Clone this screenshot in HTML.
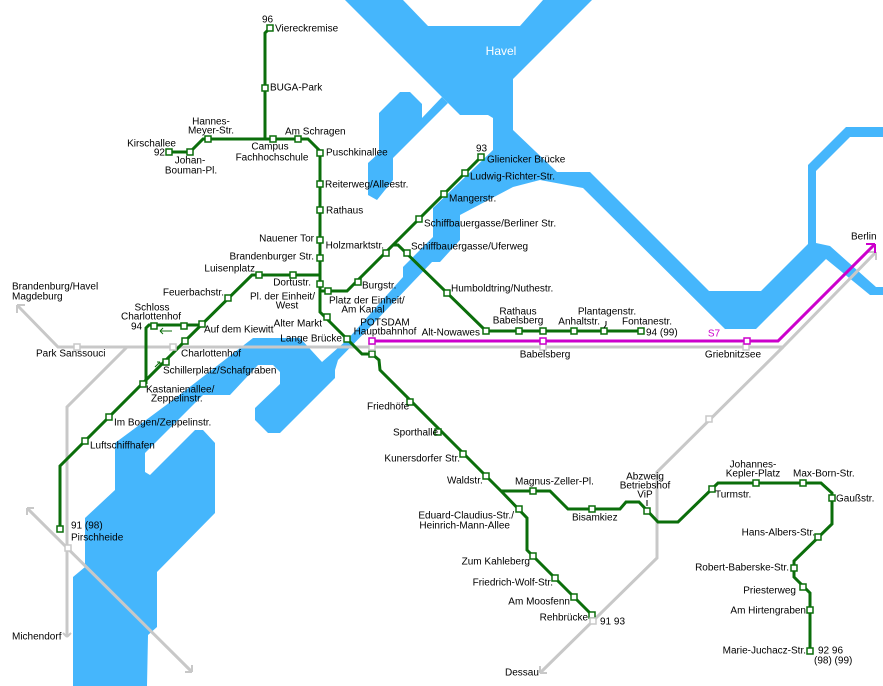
<!DOCTYPE html>
<html><head><meta charset="utf-8"><style>
html,body{margin:0;padding:0;background:#fff}
svg{display:block}
text{font-family:"Liberation Sans",sans-serif;font-size:10px;fill:#000;dominant-baseline:central}
.e{text-anchor:end}.m{text-anchor:middle}
.g{fill:none;stroke:#0b6e0b;stroke-width:3;stroke-linejoin:miter}
.r{fill:none;stroke:#c8c8c8;stroke-width:3}
.s{fill:#fff;stroke:#0b6e0b;stroke-width:1.5}
.sg{fill:#fff;stroke:#c8c8c8;stroke-width:1.5}
.sm{fill:#fff;stroke:#cc00cc;stroke-width:1.5}
</style></head><body>
<svg width="883" height="686" viewBox="0 0 883 686" xmlns="http://www.w3.org/2000/svg">
<g fill="#45b6fc">
<polygon points="345,0 403,0 428,26 520,26 543,0 592,0 513,79 513,130 557,172 590,172 709,291 761,291 808,244 808,165 846,127 883,127 883,137 850,137 816,171 816,243 830,246 876,287 883,287 883,295 870,295 826,259 756,329 725,329 583,188 540,180 513,187 460,215 460,240 440,262 432,262 372,325 338,360 335,370 322,362 347,340 403,277 403,267 433,237 433,208 493,150 493,118 488,115 460,115 440,95"/>
<polygon points="379,113 400,92 410,92 422,104 422,118 442,97 448,103 393,158 393,180 377,200 368,195 368,163 379,153"/>
<polygon points="253,338 300,338 322,362 335,362 335,378 280,433 268,433 255,420 255,408 280,384 280,372 273,365 258,365 230,395 203,395 145,453 145,472 150,475 195,430 203,430 215,443 215,513 157,572 157,627 148,635 147,686 73,686 73,577 85,567 85,518 115,490 115,443 173,400"/>
</g>
<text x="501" y="51" class="m" style="fill:#fff;font-size:12px">Havel</text>

<polyline class="r" points="17,305 58,347 783,347 876,252"/>
<polyline class="r" points="127,347 67,407 67,637"/>
<polyline class="r" points="27,508 192,672"/>
<polyline class="r" points="783,347 657,472 657,558 540,673"/>
<path d="M17,305 l0,8 M17,305 l8,0" class="r" style="stroke-width:2"/>
<path d="M876,252 l-8,0 M876,252 l0,8" class="r" style="stroke-width:2"/>
<path d="M67,637 l-4,-4 M67,637 l4,-4" class="r" style="stroke-width:2"/>
<path d="M27,508 l0,7 M27,508 l7,0" class="r" style="stroke-width:2"/>
<path d="M192,672 l-7,0 M192,672 l0,-7" class="r" style="stroke-width:2"/>
<path d="M540,673 l7,0 M540,673 l0,-7" class="r" style="stroke-width:2"/>
<polyline points="372,341 778,341 875,244" fill="none" stroke="#cc00cc" stroke-width="3"/>
<path d="M875,244 l-9,0 M875,244 l0,9" stroke="#cc00cc" stroke-width="2" fill="none"/>
<line x1="543" y1="341" x2="543" y2="347" stroke="#000" stroke-width="1"/>

<polyline class="g" points="270,28 265,33 265,139"/>
<polyline class="g" points="169,152 190,152 203,139 308,139 320,151 320,312 347,339 362,354 372,354 379,360 380,370 501,491 527,518 527,550 592,615"/>
<polyline class="g" points="320,275 252,275 185,341 60,466 60,529"/>
<polyline class="g" points="146,384 146,328 149,325 201,325"/>
<polyline class="g" points="320,291 347,291 481,157"/>
<polyline class="g" points="393,245 398,245 486,331 641,331"/>
<polyline class="g" points="501,491 550,491 568,509 620,509 626,502 639,502 658,522 678,522 718,483 821,483 832,493 832,524 794,561 794,577 810,593 810,651"/>

<g class="s">
<rect x="267" y="25" width="6" height="6"/><rect x="262" y="85" width="6" height="6"/>
<rect x="166" y="149" width="6" height="6"/><rect x="187" y="149" width="6" height="6"/>
<rect x="205" y="136" width="6" height="6"/><rect x="270" y="136" width="6" height="6"/><rect x="295" y="136" width="6" height="6"/>
<rect x="317" y="150" width="6" height="6"/><rect x="317" y="181" width="6" height="6"/><rect x="317" y="207" width="6" height="6"/>
<rect x="317" y="237" width="6" height="6"/><rect x="317" y="255" width="6" height="6"/><rect x="317" y="281" width="6" height="6"/>
<rect x="325" y="288" width="6" height="6"/><rect x="324" y="314" width="6" height="6"/><rect x="344" y="336" width="6" height="6"/>
<rect x="369" y="351" width="6" height="6"/>
<rect x="256" y="272" width="6" height="6"/><rect x="290" y="272" width="6" height="6"/>
<rect x="225" y="295" width="6" height="6"/><rect x="199" y="321" width="6" height="6"/><rect x="182" y="338" width="6" height="6"/>
<rect x="163" y="359" width="6" height="6"/><rect x="140" y="381" width="6" height="6"/><rect x="106" y="414" width="6" height="6"/>
<rect x="82" y="438" width="6" height="6"/><rect x="57" y="526" width="6" height="6"/>
<rect x="151" y="323" width="6" height="6"/><rect x="181" y="323" width="6" height="6"/>
<rect x="355" y="279" width="6" height="6"/><rect x="383" y="250" width="6" height="6"/><rect x="416" y="216" width="6" height="6"/>
<rect x="441" y="191" width="6" height="6"/><rect x="462" y="170" width="6" height="6"/><rect x="478" y="154" width="6" height="6"/>
<rect x="404" y="250" width="6" height="6"/><rect x="444" y="290" width="6" height="6"/>
<rect x="483" y="328" width="6" height="6"/><rect x="516" y="328" width="6" height="6"/><rect x="540" y="328" width="6" height="6"/>
<rect x="571" y="328" width="6" height="6"/><rect x="601" y="328" width="6" height="6"/><rect x="638" y="328" width="6" height="6"/>
<rect x="407" y="399" width="6" height="6"/><rect x="435" y="429" width="6" height="6"/><rect x="460" y="451" width="6" height="6"/>
<rect x="483" y="473" width="6" height="6"/><rect x="516" y="506" width="6" height="6"/>
<rect x="530" y="553" width="6" height="6"/><rect x="552" y="575" width="6" height="6"/><rect x="571" y="594" width="6" height="6"/><rect x="589" y="612" width="6" height="6"/>
<rect x="530" y="488" width="6" height="6"/><rect x="589" y="506" width="6" height="6"/><rect x="644" y="508" width="6" height="6"/>
<rect x="709" y="486" width="6" height="6"/><rect x="753" y="480" width="6" height="6"/><rect x="800" y="480" width="6" height="6"/>
<rect x="829" y="495" width="6" height="6"/><rect x="815" y="534" width="6" height="6"/><rect x="791" y="565" width="6" height="6"/>
<rect x="800" y="584" width="6" height="6"/><rect x="807" y="607" width="6" height="6"/><rect x="807" y="648" width="6" height="6"/>
</g>
<g class="sg">
<rect x="74" y="344" width="6" height="6"/><rect x="170" y="344" width="6" height="6"/><rect x="369" y="344" width="6" height="6"/>
<rect x="540" y="344" width="6" height="6"/><rect x="743" y="344" width="6" height="6"/>
<rect x="65" y="545" width="6" height="6"/><rect x="706" y="416" width="6" height="6"/><rect x="590" y="618" width="6" height="6"/>
</g>
<g class="sm">
<rect x="369" y="338" width="6" height="6"/><rect x="540" y="338" width="6" height="6"/><rect x="744" y="338" width="6" height="6"/>
</g>
<path d="M160,331 h12 M160,331 l3,-3 M160,331 l3,3" stroke="#0b6e0b" stroke-width="1" fill="none"/>
<path d="M155,367 l5,-5 M160,362 h-3 M160,362 v3" stroke="#0b6e0b" stroke-width="1" fill="none"/>

<text x="262" y="20">96</text>
<text x="275" y="29">Viereckremise</text>
<text x="270" y="88">BUGA-Park</text>
<text x="211" y="122" class="m">Hannes-</text>
<text x="211" y="131" class="m">Meyer-Str.</text>
<text x="176" y="144" class="e">Kirschallee</text>
<text x="165" y="153" class="e">92</text>
<text x="190" y="161" class="m">Johan-</text>
<text x="191" y="171" class="m">Bouman-Pl.</text>
<text x="270" y="147" class="m">Campus</text>
<text x="272" y="158" class="m">Fachhochschule</text>
<text x="285" y="132">Am Schragen</text>
<text x="326" y="153">Puschkinallee</text>
<text x="325" y="185">Reiterweg/Alleestr.</text>
<text x="326" y="211">Rathaus</text>
<text x="314" y="239" class="e">Nauener Tor</text>
<text x="314" y="257" class="e">Brandenburger Str.</text>
<text x="255" y="269" class="e">Luisenplatz</text>
<text x="311" y="283" class="e">Dortustr.</text>
<text x="315" y="297" class="e">Pl. der Einheit/</text>
<text x="287" y="306" class="m">West</text>
<text x="224" y="293" class="e">Feuerbachstr.</text>
<text x="12" y="287">Brandenburg/Havel</text>
<text x="12" y="297">Magdeburg</text>
<text x="152" y="308" class="m">Schloss</text>
<text x="151" y="317" class="m">Charlottenhof</text>
<text x="131" y="327">94</text>
<text x="204" y="330">Auf dem Kiewitt</text>
<text x="322" y="324" class="e">Alter Markt</text>
<text x="342" y="339" class="e">Lange Brücke</text>
<text x="329" y="301">Platz der Einheit/</text>
<text x="363" y="310" class="m">Am Kanal</text>
<text x="362" y="286">Burgstr.</text>
<text x="384" y="246" class="e">Holzmarktstr.</text>
<text x="385" y="323" class="m">POTSDAM</text>
<text x="385" y="332" class="m">Hauptbahnhof</text>
<text x="476" y="149">93</text>
<text x="487" y="160">Glienicker Brücke</text>
<text x="470" y="177">Ludwig-Richter-Str.</text>
<text x="449" y="199">Mangerstr.</text>
<text x="424" y="224">Schiffbauergasse/Berliner Str.</text>
<text x="411" y="247">Schiffbauergasse/Uferweg</text>
<text x="451" y="289">Humboldtring/Nuthestr.</text>
<text x="518" y="312" class="m">Rathaus</text>
<text x="518" y="321" class="m">Babelsberg</text>
<text x="607" y="312" class="m">Plantagenstr.</text>
<path d="M604,328 l2,-3 v-4" stroke="#000" stroke-width="1" fill="none"/>
<text x="600" y="322" class="e">Anhaltstr.</text>
<text x="622" y="322">Fontanestr.</text>
<text x="646" y="333">94 (99)</text>
<text x="480" y="333" class="e">Alt-Nowawes</text>
<text x="714" y="334" class="m" style="fill:#cc00cc">S7</text>
<text x="851" y="237">Berlin</text>
<text x="545" y="355" class="m">Babelsberg</text>
<text x="733" y="355" class="m">Griebnitzsee</text>
<text x="36" y="354">Park Sanssouci</text>
<text x="181" y="354">Charlottenhof</text>
<text x="163" y="371">Schillerplatz/Schafgraben</text>
<text x="146" y="390">Kastanienallee/</text>
<text x="151" y="399">Zeppelinstr.</text>
<text x="114" y="423">Im Bogen/Zeppelinstr.</text>
<text x="90" y="446">Luftschiffhafen</text>
<text x="71" y="526">91 (98)</text>
<text x="71" y="538">Pirschheide</text>
<text x="12" y="637">Michendorf</text>
<text x="367" y="407">Friedhöfe</text>
<text x="393" y="433">Sporthalle</text>
<text x="460" y="459" class="e">Kunersdorfer Str.</text>
<text x="447" y="481">Waldstr.</text>
<text x="515" y="482">Magnus-Zeller-Pl.</text>
<text x="514" y="516" class="e">Eduard-Claudius-Str./</text>
<text x="510" y="526" class="e">Heinrich-Mann-Allee</text>
<text x="572" y="518">Bisamkiez</text>
<text x="645" y="477" class="m">Abzweig</text>
<text x="645" y="486" class="m">Betriebshof</text>
<text x="645" y="495" class="m">ViP</text>
<line x1="647" y1="500" x2="647" y2="506" stroke="#000" stroke-width="1"/>
<text x="753" y="465" class="m">Johannes-</text>
<text x="753" y="474" class="m">Kepler-Platz</text>
<text x="793" y="474">Max-Born-Str.</text>
<text x="715" y="495">Turmstr.</text>
<text x="836" y="499">Gaußstr.</text>
<text x="815" y="533" class="e">Hans-Albers-Str.</text>
<text x="789" y="568" class="e">Robert-Baberske-Str.</text>
<text x="796" y="591" class="e">Priesterweg</text>
<text x="806" y="611" class="e">Am Hirtengraben</text>
<text x="806" y="651" class="e">Marie-Juchacz-Str.</text>
<text x="818" y="651">92 96</text>
<text x="814" y="661">(98) (99)</text>
<text x="530" y="562" class="e">Zum Kahleberg</text>
<text x="553" y="583" class="e">Friedrich-Wolf-Str.</text>
<text x="570" y="602" class="e">Am Moosfenn</text>
<text x="588" y="618" class="e">Rehbrücke</text>
<text x="600" y="622">91  93</text>
<text x="505" y="673">Dessau</text>
</svg>
</body></html>
